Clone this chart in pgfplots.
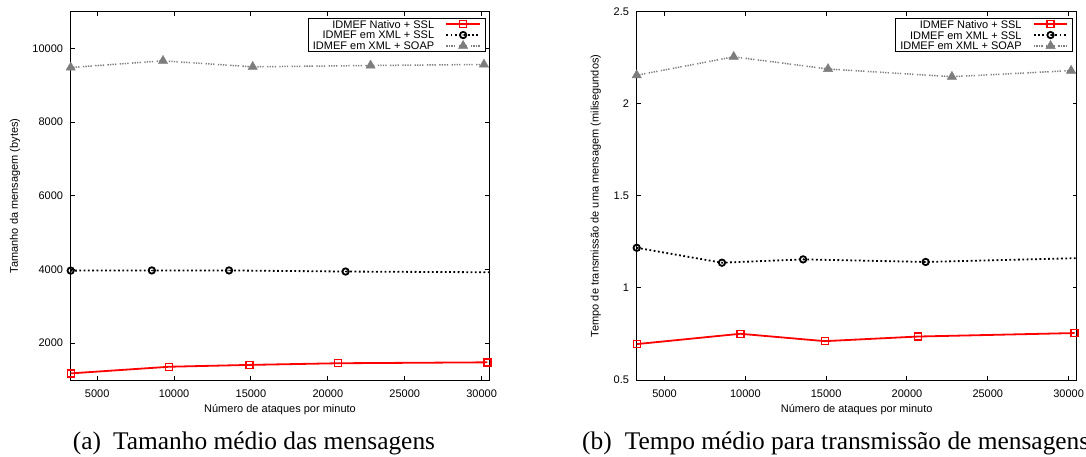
\documentclass[border=0pt]{standalone}
\usepackage{fontspec}
\setmainfont{Liberation Serif}
\newfontfamily\arialf{Liberation Sans}
\usepackage{pgfplots}
\pgfplotsset{compat=1.18}
\usetikzlibrary{plotmarks}
\newcommand\axf{\arialf\fontsize{11}{11}\selectfont}
\pgfdeclareplotmark{circdot}{%
  \pgfpathcircle{\pgfpointorigin}{\pgfplotmarksize}\pgfusepathqstroke
  \pgfpathcircle{\pgfpointorigin}{0.75pt}\pgfusepathqfill}
\definecolor{gp gray}{RGB}{125,125,125}
\pgfplotsset{
  common/.style={
    scale only axis, height=368.3pt,
    xmin=3280, xmax=30500, enlargelimits=false,
    xtick={5000,10000,...,30000},
    scaled ticks=false,
    /pgf/number format/1000 sep={},
    /pgf/number format/assume math mode=true,
    tick align=inside, major tick length=4pt,
    axis line style={line width=1pt},
    every tick/.style={black, line width=1pt},
    tick label style={font=\axf},
    xticklabel style={inner sep=0pt, anchor=north, yshift=-9.3pt},
    yticklabel style={inner sep=0pt, anchor=east, xshift=-7.5pt},
    label style={font=\axf},
    xlabel style={at={(axis description cs:0.5,0)}, anchor=center, yshift=-30pt, inner sep=0pt},
    legend plot pos=right,
    legend cell align=right,
    legend style={at={(1,1)}, anchor=north east, xshift=-3.5pt, yshift=-6pt,
      draw=black, line width=1pt, inner xsep=4.4pt, inner ysep=0.65pt,
      column sep=11.2pt, row sep=0pt,
      nodes={inner sep=0pt, text height=9.35pt, text depth=1.45pt, font=\axf}},
    legend image code/.code={
      \draw[##1] (0pt,0pt) -- (33.7pt,0pt);
      \draw[##1] plot coordinates {(16.85pt,0pt)};
    },
  },
  sred/.style={red, line width=1.8pt, mark=square, mark size=3.5pt, mark options={solid, line width=1.4pt}},
  sblack/.style={black, line width=1.8pt, dash pattern=on 1.8pt off 2.5pt, mark=circdot, mark size=3.2pt, mark options={solid, line width=1.8pt}, mark indices={1,2,3,4}},
  sgray/.style={gp gray, line width=1.5pt, dash pattern=on 1.3pt off 1.2pt on 1.3pt off 1.2pt on 1.3pt off 1.2pt on 1.3pt off 3.5pt, mark=triangle*, mark size=5.4pt, mark options={solid, line width=0.4pt, fill=gp gray}},
}
\begin{document}
\begin{tikzpicture}
\begin{axis}[common, at={(70.7pt,76pt)}, anchor=south west, width=418.6pt,
  ymin=1000, ymax=11000, ytick={2000,4000,...,10000},
  xlabel={Número de ataques por minuto},
  ylabel={Tamanho da mensagem (bytes)},
  ylabel style={at={(axis description cs:-0.1331,0.5)}, anchor=center, inner sep=0pt},
]
\addplot[sred] coordinates {(3280,1180) (9690,1360) (14910,1410) (20665,1455) (30370,1480)};
\addlegendentry{IDMEF Nativo + SSL}
\addplot[sblack] coordinates {(3280,3970) (8555,3975) (13576,3975) (21155,3945) (32000,3922)};
\addlegendentry{IDMEF em XML + SSL}
\addplot[sgray] coordinates {(3280,9485) (9283,9666) (15115,9503) (22780,9540) (30153,9567)};
\addlegendentry{IDMEF em XML + SOAP}
\end{axis}
\begin{axis}[common, at={(636.7pt,76pt)}, anchor=south west, width=440pt,
  ymin=0.5, ymax=2.5, ytick={0.5,1,...,2.5},
  xlabel={Número de ataques por minuto},
  ylabel={Tempo de transmissão de uma mensagem (milisegundos)},
  ylabel style={at={(axis description cs:-0.0932,0.5)}, anchor=center, inner sep=0pt},
]
\addplot[sred] coordinates {(3280,0.695) (9690,0.751) (14910,0.711) (20665,0.736) (30370,0.755)};
\addlegendentry{IDMEF Nativo + SSL}
\addplot[sblack] coordinates {(3280,1.218) (8555,1.137) (13576,1.155) (21155,1.141) (32000,1.165)};
\addlegendentry{IDMEF em XML + SSL}
\addplot[sgray] coordinates {(3280,2.155) (9283,2.255) (15115,2.189) (22780,2.147) (30153,2.18)};
\addlegendentry{IDMEF em XML + SOAP}
\end{axis}
\node[anchor=base west, inner sep=0pt, font=\fontsize{25.4}{30}\selectfont] at (72.7pt,6.5pt) {(a)\hspace{12pt}Tamanho médio das mensagens};
\node[anchor=base west, inner sep=0pt, font=\fontsize{25.4}{30}\selectfont] at (582pt,6.5pt) {(b)\hspace{13pt}Tempo médio para transmissão de mensagens};
\pgfresetboundingbox
\path[use as bounding box] (0pt,0pt) rectangle (1086pt,456pt);
\end{tikzpicture}
\end{document}
